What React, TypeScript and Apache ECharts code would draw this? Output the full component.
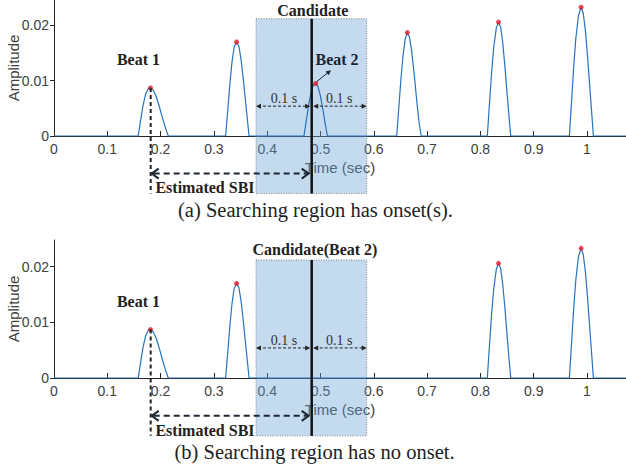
import { useEffect, useRef } from "react";
import * as echarts from "echarts";

// ---------- data ----------
const X_MAX = 1.0732;
const Y_MAX_TOP = 0.0246;
const Y_MAX_BOTTOM = 0.0248;

const xTickValues = [0, 0.1, 0.2, 0.3, 0.4, 0.5, 0.6, 0.7, 0.8, 0.9, 1];
const xTickLabels = ["0", "0.1", "0.2", "0.3", "0.4", "0.5", "0.6", "0.7", "0.8", "0.9", "1"];
const yTickValues = [0, 0.01, 0.02];
const yTickLabels = ["0", "0.01", "0.02"];

const beat1Wave = [
  [0.158, 0], [0.162, 0.0025], [0.167, 0.0055], [0.172, 0.0076], [0.177, 0.0086], [0.181, 0.0087],
  [0.186, 0.0083], [0.192, 0.0071], [0.198, 0.0052], [0.204, 0.0031], [0.21, 0.0012], [0.2145, 0],
];
const wave2 = [
  [0.322, 0], [0.326, 0.0046], [0.33, 0.0094], [0.334, 0.0134], [0.338, 0.0161], [0.3426, 0.017],
  [0.347, 0.0162], [0.351, 0.0138], [0.355, 0.0104], [0.359, 0.0066], [0.363, 0.0028], [0.366, 0],
];
const beat2Wave = [
  [0.469, 0], [0.474, 0.0032], [0.479, 0.0063], [0.484, 0.0085], [0.488, 0.0094], [0.491, 0.0095],
  [0.495, 0.009], [0.5, 0.0072], [0.505, 0.0045], [0.509, 0.0021], [0.513, 0],
];
const wave4 = [
  [0.643, 0], [0.647, 0.0052], [0.651, 0.0104], [0.655, 0.0146], [0.659, 0.0176], [0.663, 0.0187],
  [0.667, 0.0179], [0.671, 0.0154], [0.676, 0.011], [0.681, 0.006], [0.685, 0.0024], [0.689, 0],
];
const wave5 = [
  [0.813, 0], [0.817, 0.0058], [0.821, 0.0114], [0.825, 0.016], [0.83, 0.0196], [0.834, 0.0206],
  [0.838, 0.0197], [0.842, 0.0168], [0.846, 0.0126], [0.85, 0.0078], [0.854, 0.0032], [0.857, 0],
];
const wave6 = [
  [0.967, 0], [0.971, 0.0062], [0.975, 0.0124], [0.979, 0.0176], [0.984, 0.0218], [0.989, 0.0233],
  [0.993, 0.0222], [0.997, 0.0191], [1.001, 0.0145], [1.005, 0.0092], [1.009, 0.004], [1.012, 0],
];

const peaksTop = [[0.181, 0.0087], [0.3426, 0.017], [0.491, 0.0095], [0.663, 0.0187], [0.834, 0.0206], [0.989, 0.0233]];
const peaksBottom = [[0.181, 0.0087], [0.3426, 0.017], [0.834, 0.0206], [0.989, 0.0233]];

const captionA = "(a) Searching region has onset(s).";
const captionB = "(b) Searching region has no onset.";
const candidateLabelA = "Candidate";
const candidateLabelB = "Candidate(Beat 2)";

// ---------- annotation positions (data units) ----------
const CAND_X = 0.4835;
const REG_L = 0.379;
const REG_R = 0.5867;
const REG_T = 0.0212;
const REG_B = -0.0104;
const BEAT1_X = 0.1814;
const ARROW01_Y = 0.0054;
const LABEL01_Y = 0.0068;
const SBI_Y = -0.0068;
const SBI_TEXT = [0.2833, -0.0094];
const BEAT1_TEXT = [0.1585, 0.0138];
const BEAT2_TEXT = [0.531, 0.0139];
const BEAT2_ARROW = [[0.4925, 0.0098], [0.5197, 0.0119]];

const SERIF = '"Liberation Serif", "Times New Roman", serif';
const SANS = '"Liberation Sans", Arial, Helvetica, sans-serif';
const BLUE = "#2474c0";
const RED = "#e5192a";
const INK = "#222222";

function buildSignal(waves: number[][][]) {
  const out: number[][] = [[0, 0]];
  waves.forEach((w) => w.forEach((p) => out.push(p)));
  out.push([X_MAX, 0]);
  return out;
}

function xAxis(g: number) {
  return {
    type: "value",
    gridIndex: g,
    min: 0,
    max: X_MAX,
    axisLine: { show: true, onZero: false, lineStyle: { color: "#262626", width: 1 } },
    axisTick: { show: true, inside: true, length: 5, customValues: xTickValues, lineStyle: { color: "#262626" } },
    axisLabel: {
      customValues: xTickValues,
      formatter: (v: number) => xTickLabels[xTickValues.indexOf(v)] ?? "",
      fontSize: 14,
      color: "#404040",
      margin: 6,
      fontFamily: SANS,
    },
    splitLine: { show: false },
    name: "Time (sec)",
    nameLocation: "middle",
    nameGap: 24,
    nameMoveOverlap: false,
    nameTextStyle: { fontSize: 15, color: "#404040", fontFamily: SANS },
  };
}

function yAxis(g: number, max: number) {
  return {
    type: "value",
    gridIndex: g,
    min: 0,
    max,
    axisLine: { show: true, lineStyle: { color: "#262626", width: 1 } },
    axisTick: { show: true, inside: false, length: 4, customValues: yTickValues, lineStyle: { color: "#262626" } },
    axisLabel: {
      customValues: yTickValues,
      formatter: (v: number) => yTickLabels[yTickValues.indexOf(v)] ?? "",
      fontSize: 14,
      color: "#404040",
      margin: 5,
      fontFamily: SANS,
    },
    splitLine: { show: false },
    name: "Amplitude",
    nameLocation: "middle",
    nameGap: 33,
    nameMoveOverlap: false,
    nameTextStyle: { fontSize: 15, color: "#404040", fontFamily: SANS },
  };
}

export default function App() {
  const ref = useRef<HTMLDivElement>(null);

  useEffect(() => {
    if (!ref.current) return;
    const chart = echarts.init(ref.current, undefined, { renderer: "svg" });

    const topSignal = buildSignal([beat1Wave, wave2, beat2Wave, wave4, wave5, wave6]);
    const bottomSignal = buildSignal([beat1Wave, wave2, wave5, wave6]);

    chart.setOption({
      animation: false,
      backgroundColor: "#ffffff",
      grid: [
        { left: 54, top: 0, width: 572, height: 136, containLabel: false, outerBoundsMode: "none" },
        { left: 54, top: 240, width: 572, height: 138, containLabel: false, outerBoundsMode: "none" },
      ],
      xAxis: [xAxis(0), xAxis(1)],
      yAxis: [yAxis(0, Y_MAX_TOP), yAxis(1, Y_MAX_BOTTOM)],
      series: [
        {
          type: "line", xAxisIndex: 0, yAxisIndex: 0, data: topSignal, showSymbol: false, symbol: "none",
          lineStyle: { color: BLUE, width: 1.2 }, z: 3, silent: true,
        },
        {
          type: "scatter", xAxisIndex: 0, yAxisIndex: 0, data: peaksTop, symbolSize: 5,
          itemStyle: { color: RED }, z: 4, silent: true,
        },
        {
          type: "line", xAxisIndex: 1, yAxisIndex: 1, data: bottomSignal, showSymbol: false, symbol: "none",
          lineStyle: { color: BLUE, width: 1.2 }, z: 3, silent: true,
        },
        {
          type: "scatter", xAxisIndex: 1, yAxisIndex: 1, data: peaksBottom, symbolSize: 5,
          itemStyle: { color: RED }, z: 4, silent: true,
        },
      ],
    });

    const P = (g: number, x: number, y: number) =>
      chart.convertToPixel({ gridIndex: g }, [x, y]) as unknown as number[];

    const els: any[] = [];
    const line = (a: number[], b: number[], style: any, z = 10) =>
      els.push({ type: "line", silent: true, z, shape: { x1: a[0], y1: a[1], x2: b[0], y2: b[1] }, style });
    const text = (p: number[], t: string, font: string, fill = INK, z = 12) =>
      els.push({ type: "text", silent: true, z, x: p[0], y: p[1], style: { text: t, font, fill, align: "center", verticalAlign: "middle" } });
    const triHead = (tip: number[], dx: number, dy: number, len: number, half: number, fill: string) => {
      const bx = tip[0] - dx * len;
      const by = tip[1] - dy * len;
      els.push({
        type: "polygon", silent: true, z: 11,
        shape: { points: [tip, [bx - dy * half, by + dx * half], [bx + dy * half, by - dx * half]] },
        style: { fill },
      });
    };
    const chevron = (tip: number[], dir: number) =>
      els.push({
        type: "polyline", silent: true, z: 11,
        shape: { points: [[tip[0] - dir * 7, tip[1] - 5], tip, [tip[0] - dir * 7, tip[1] + 5]] },
        style: { stroke: "#1c2733", lineWidth: 2, fill: "none" },
      });

    [0, 1].forEach((g) => {
      const tl = P(g, REG_L, REG_T);
      const br = P(g, REG_R, REG_B);
      els.push({
        type: "rect", silent: true, z: 1,
        shape: { x: tl[0], y: tl[1], width: br[0] - tl[0], height: br[1] - tl[1] },
        style: { fill: "rgba(108,163,213,0.4)", stroke: "#6b6b6b", lineWidth: 0.8, lineDash: [1, 1.5] },
      });
      // candidate line
      line(P(g, CAND_X, REG_T), P(g, CAND_X, REG_B), { stroke: "#111111", lineWidth: 2.5 });
      // candidate label
      const cy = g === 0 ? 0.0227 : 0.0231;
      const cx = g === 0 ? 0.4855 : 0.4897;
      text(P(g, cx, cy), g === 0 ? candidateLabelA : candidateLabelB, `bold 16px ${SERIF}`);
      // Beat 1
      text(P(g, BEAT1_TEXT[0], BEAT1_TEXT[1]), "Beat 1", `bold 16px ${SERIF}`);
      // 0.1 s arrows
      const a1 = P(g, REG_L, ARROW01_Y);
      const a2 = P(g, CAND_X, ARROW01_Y);
      const a3 = P(g, REG_R, ARROW01_Y);
      const thin = { stroke: INK, lineWidth: 1, lineDash: [3, 2] };
      line([a1[0] + 2, a1[1]], [a2[0] - 3, a2[1]], thin);
      line([a2[0] + 3, a2[1]], [a3[0] - 2, a3[1]], thin);
      triHead([a1[0], a1[1]], -1, 0, 5, 2.5, INK);
      triHead([a2[0] - 1.5, a2[1]], 1, 0, 5, 2.5, INK);
      triHead([a2[0] + 1.5, a2[1]], -1, 0, 5, 2.5, INK);
      triHead([a3[0], a3[1]], 1, 0, 5, 2.5, INK);
      text(P(g, (REG_L + CAND_X) / 2, LABEL01_Y), "0.1 s", `14px ${SERIF}`, "#333333");
      text(P(g, (CAND_X + REG_R) / 2, LABEL01_Y), "0.1 s", `14px ${SERIF}`, "#333333");
      // dashed drop line from Beat 1
      line(P(g, BEAT1_X, 0.0087), P(g, BEAT1_X, REG_B), { stroke: INK, lineWidth: 2, lineDash: [4, 3] });
      // Estimated SBI arrow
      const s1 = P(g, BEAT1_X, SBI_Y);
      const s2 = P(g, CAND_X, SBI_Y);
      const l = [s1[0] + 1, s1[1]];
      const r = [s2[0] - 3, s2[1]];
      line([l[0] + 2, l[1]], [r[0] - 2, r[1]], { stroke: "#1c2733", lineWidth: 2, lineDash: [6, 4] });
      chevron(l, -1);
      chevron(r, 1);
      text(P(g, SBI_TEXT[0], SBI_TEXT[1]), "Estimated SBI", `bold 16px ${SERIF}`);
    });

    // Beat 2 (top panel only)
    text(P(0, BEAT2_TEXT[0], BEAT2_TEXT[1]), "Beat 2", `bold 16px ${SERIF}`, "#1a2633");
    const b0 = P(0, BEAT2_ARROW[0][0], BEAT2_ARROW[0][1]);
    const b1 = P(0, BEAT2_ARROW[1][0], BEAT2_ARROW[1][1]);
    const len = Math.hypot(b1[0] - b0[0], b1[1] - b0[1]);
    const ux = (b1[0] - b0[0]) / len;
    const uy = (b1[1] - b0[1]) / len;
    line(b0, [b1[0] - ux * 4, b1[1] - uy * 4], { stroke: "#1a2633", lineWidth: 1 });
    triHead(b1, ux, uy, 5, 2.5, "#1a2633");

    // captions
    els.push({
      type: "text", silent: true, z: 12, x: 315.5, y: 210,
      style: { text: captionA, font: `20.5px ${SERIF}`, fill: INK, align: "center", verticalAlign: "middle" },
    });
    els.push({
      type: "text", silent: true, z: 12, x: 314.5, y: 451.7,
      style: { text: captionB, font: `20.5px ${SERIF}`, fill: INK, align: "center", verticalAlign: "middle" },
    });

    chart.setOption({ graphic: { elements: els } });

    return () => chart.dispose();
  }, []);

  return (
    <div
      ref={ref}
      style={{ position: "fixed", left: 0, top: 0, width: 626, height: 469, background: "#fff" }}
    />
  );
}
